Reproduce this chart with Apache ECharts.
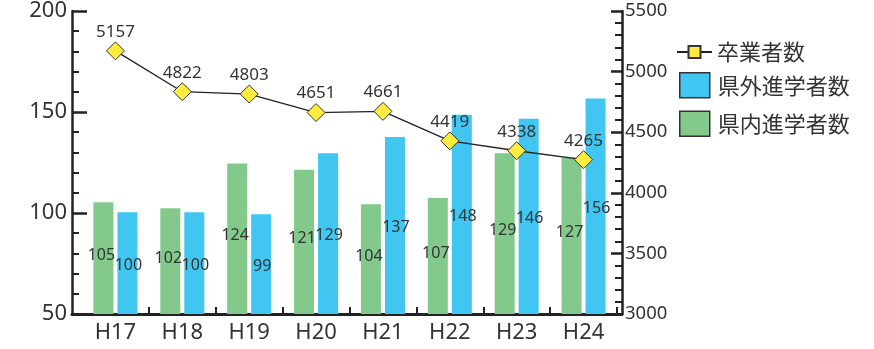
<!DOCTYPE html>
<html><head><meta charset="utf-8">
<script src="https://cdn.jsdelivr.net/npm/echarts@6/dist/echarts.min.js"></script>
<style>html,body{margin:0;padding:0;background:#fff}#c{width:874px;height:349px}</style>
</head><body><div id="c"></div>
<script>
const categories = ['H17','H18','H19','H20','H21','H22','H23','H24'];
const graduates = [5157, 4822, 4803, 4651, 4661, 4419, 4338, 4265];
const outPref = [100, 100, 99, 129, 137, 148, 146, 156];
const inPref = [105, 102, 124, 121, 104, 107, 129, 127];
const leftTicks = {min: 50, max: 200, interval: 50};
const rightTicks = {min: 3000, max: 5500, interval: 500};

const NOTO = "'Noto Sans', sans-serif";
const CJK = "'Noto Sans CJK JP', sans-serif";
const TXT = '#333';
const AX = '#222';

const chart = echarts.init(document.getElementById('c'));
chart.setOption({
  animation: false,
  grid: [
    {left: 82, right: 257, top: 9, bottom: 35},
    {left: 72, right: 252, top: 9, bottom: 35}
  ],
  legend: [
    {
      data: ['卒業者数'], left: 671, top: 36, orient: 'vertical',
      itemWidth: 35, itemHeight: 15,
      textStyle: {fontFamily: CJK, fontSize: 22, color: TXT}
    },
    {
      data: ['県外進学者数', '県内進学者数'], left: 674, top: 67, orient: 'vertical',
      icon: 'rect', itemWidth: 30, itemHeight: 25, itemGap: 12,
      itemStyle: {borderColor: '#333', borderWidth: 1.5},
      textStyle: {fontFamily: CJK, fontSize: 22, color: TXT, padding: [0, 0, 0, 3]}
    }
  ],
  xAxis: [
    {
      type: 'category', data: categories, gridIndex: 0, boundaryGap: true,
      axisLine: {show: false},
      axisTick: {show: true, inside: true, length: 7, lineStyle: {color: AX, width: 2},
        interval: (i) => i !== 0},
      axisLabel: {fontFamily: NOTO, fontSize: 22, color: TXT, margin: 8}
    },
    {
      type: 'value', gridIndex: 1, min: 0, max: 1,
      axisLine: {show: true, onZero: false, lineStyle: {color: AX, width: 3}},
      axisTick: {show: false}, axisLabel: {show: false}, splitLine: {show: false}
    }
  ],
  yAxis: [
    {type: 'value', gridIndex: 0, min: leftTicks.min, max: leftTicks.max, interval: leftTicks.interval, show: false},
    {type: 'value', gridIndex: 0, min: rightTicks.min, max: rightTicks.max, interval: rightTicks.interval, show: false},
    {
      type: 'value', gridIndex: 1, position: 'left',
      min: leftTicks.min, max: leftTicks.max, interval: leftTicks.interval,
      axisLine: {show: true, lineStyle: {color: AX, width: 2.5}},
      axisTick: {show: true, inside: true, length: 15, lineStyle: {color: AX, width: 2.5}},
      minorTick: {show: true, splitNumber: 5, length: 7, lineStyle: {color: AX, width: 2}},
      axisLabel: {fontFamily: NOTO, fontSize: 22, color: TXT, margin: 5, padding: [5, 0, 0, 0],
        formatter: (v) => String(v)},
      splitLine: {show: false}
    },
    {
      type: 'value', gridIndex: 1, position: 'right',
      min: rightTicks.min, max: rightTicks.max, interval: rightTicks.interval,
      axisLine: {show: true, lineStyle: {color: AX, width: 2.5}},
      axisTick: {show: true, inside: true, length: 11, lineStyle: {color: AX, width: 2.5}},
      minorTick: {show: true, splitNumber: 5, length: 7, lineStyle: {color: AX, width: 2}},
      axisLabel: {fontFamily: NOTO, fontSize: 18.5, color: TXT, margin: 3, padding: [5, 0, 0, 0],
        formatter: (v) => String(v)},
      splitLine: {show: false}
    }
  ],
  series: [
    {
      name: '県内進学者数', type: 'bar', xAxisIndex: 0, yAxisIndex: 0,
      data: inPref, barWidth: 20, barGap: '20%',
      itemStyle: {color: '#82C98B'},
      label: {show: true, position: 'inside', offset: [-2, -3], fontFamily: NOTO, fontSize: 16, color: TXT}
    },
    {
      name: '県外進学者数', type: 'bar', xAxisIndex: 0, yAxisIndex: 0,
      data: outPref, barWidth: 20, barGap: '20%',
      itemStyle: {color: '#41C6F2'},
      label: {show: true, position: 'inside', offset: [1, 2], fontFamily: NOTO, fontSize: 16, color: TXT}
    },
    {
      name: '卒業者数', type: 'line', xAxisIndex: 0, yAxisIndex: 1,
      data: graduates.map(v => ({value: v, symbol: 'diamond'})),
      symbol: 'rect', symbolSize: 18,
      lineStyle: {color: '#222', width: 1.3},
      itemStyle: {color: '#FFEC3F', borderColor: '#333', borderWidth: 1},
      label: {show: true, position: 'top', distance: 1, fontFamily: NOTO, fontSize: 17, color: TXT,
        formatter: (p) => String(p.value)},
      z: 5
    }
  ]
});
</script></body></html>
